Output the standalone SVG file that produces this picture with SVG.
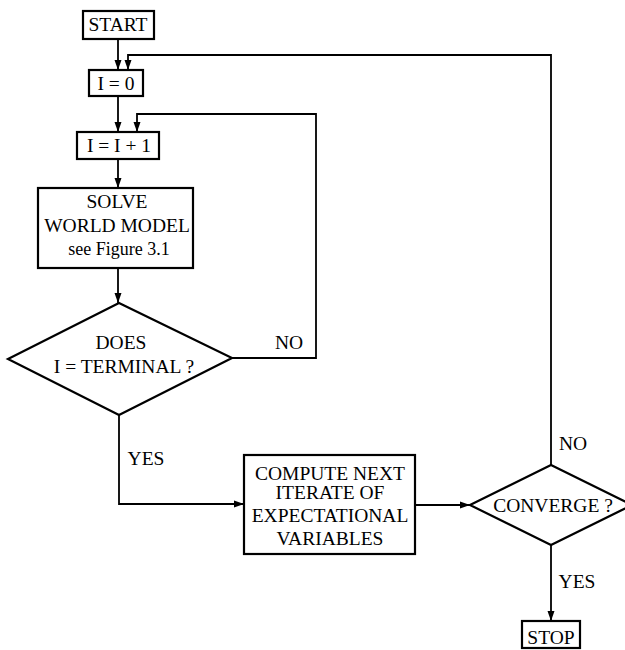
<svg xmlns="http://www.w3.org/2000/svg" width="625" height="650" viewBox="0 0 625 650">
<style>
.box{fill:#fff;stroke:#000;stroke-width:2.2}
.ln{fill:none;stroke:#000;stroke-width:1.8}
text{font-family:"Liberation Serif","Times New Roman",serif;font-size:19.5px;fill:#000;text-anchor:middle}
</style>
<defs>
<marker id="ah" viewBox="0 0 10 10" refX="10" refY="5" markerWidth="10" markerHeight="10" markerUnits="userSpaceOnUse" orient="auto">
<path d="M0,1.5 L10,5 L0,8.5 Z" fill="#000"/>
</marker>
</defs>
<rect width="625" height="650" fill="#fff"/>
<g id="connectors">
<path class="ln" d="M118,39 V70" marker-end="url(#ah)"/>
<path class="ln" d="M551,465 V55 H128 V70" marker-end="url(#ah)"/>
<path class="ln" d="M118,96 V132" marker-end="url(#ah)"/>
<path class="ln" d="M232,358 H316 V114 H137 V132" marker-end="url(#ah)"/>
<path class="ln" d="M118,159 V188" marker-end="url(#ah)"/>
<path class="ln" d="M118,268 V303" marker-end="url(#ah)"/>
<path class="ln" d="M119,415 V504 H244" marker-end="url(#ah)"/>
<path class="ln" d="M415,505 H470" marker-end="url(#ah)"/>
<path class="ln" d="M551,545 V621" marker-end="url(#ah)"/>
</g>
<g id="start"><rect class="box" x="83" y="11" width="71" height="28"/><text x="118" y="31">START</text></g>
<g id="i0"><rect class="box" x="89" y="70" width="54" height="26"/><text x="116" y="90">I = 0</text></g>
<g id="iinc"><rect class="box" x="77" y="132" width="82" height="27"/><text x="119" y="152">I = I + 1</text></g>
<g id="solve"><rect class="box" x="38" y="188" width="155" height="80"/>
<text x="117" y="208">SOLVE</text><text x="117" y="232">WORLD MODEL</text><text x="119" y="255" style="font-size:18px">see Figure 3.1</text></g>
<g id="terminal"><path class="box" d="M8,359 L119,303 L232,358 L119,415 Z"/>
<text x="121" y="349">DOES</text><text x="124" y="373">I = TERMINAL ?</text></g>
<g id="compute"><rect class="box" x="244" y="455" width="171" height="99"/>
<text x="330" y="480">COMPUTE NEXT</text><text x="330" y="499">ITERATE OF</text><text x="330" y="522">EXPECTATIONAL</text><text x="330" y="545">VARIABLES</text></g>
<g id="converge"><path class="box" d="M470,505 L551,465 L632,505 L551,545 Z"/>
<text x="553" y="512">CONVERGE ?</text></g>
<g id="stop"><rect class="box" x="522" y="621" width="58" height="27"/><text x="551" y="644">STOP</text></g>
<g id="labels">
<text x="289" y="349">NO</text>
<text x="146" y="465">YES</text>
<text x="573" y="450">NO</text>
<text x="577" y="588">YES</text>
</g>
</svg>
